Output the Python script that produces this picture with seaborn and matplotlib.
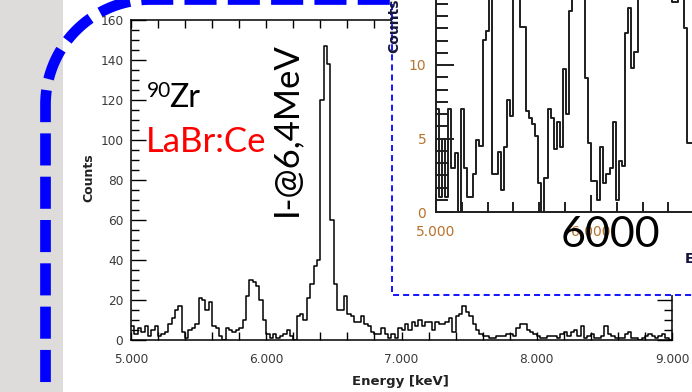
import numpy as np
import pandas as pd
import matplotlib
matplotlib.use("Agg")
import matplotlib.pyplot as plt
import seaborn as sns
from matplotlib.ticker import MultipleLocator
from matplotlib.patches import Rectangle

# ---------------- data ----------------
MAIN_E0 = 5.0
MAIN_BIN = 0.025
main_counts = [
    7, 3, 6, 4, 7, 2, 5, 7, 2, 3,
    4, 8, 11, 15, 17, 4, 1, 5, 6, 8,
    21, 20, 15, 19, 7, 6, 2, 0, 6, 5,
    4, 5, 6, 10, 22, 30, 29, 27, 20, 10,
    3, 1, 3, 1, 2, 3, 5, 2, 0, 12,
    13, 10, 21, 28, 37, 40, 120, 147, 138, 60,
    28, 15, 15, 22, 13, 12, 9, 9, 12, 8,
    7, 4, 3, 3, 6, 3, 1, 3, 1, 6,
    5, 8, 5, 9, 7, 10, 7, 9, 9, 5,
    9, 8, 8, 9, 11, 4, 12, 13, 17, 14,
    12, 8, 5, 3, 2, 2, 1, 1, 2, 2,
    2, 3, 3, 2, 6, 8, 8, 5, 4, 3,
    2, 1, 1, 2, 2, 2, 1, 3, 4, 2,
    4, 5, 2, 7, 1, 2, 3, 1, 1, 2,
    7, 3, 2, 1, 1, 1, 3, 4, 1, 1,
    0, 1, 2, 3, 2, 1, 2, 3, 1, 0,
]
main_xticks = [5, 6, 7, 8, 9]
main_xticklabels = ["5.000", "6.000", "7.000", "8.000", "9.000"]
main_yticks = [0, 20, 40, 60, 80, 100, 120, 140, 160]

INSET_E0 = 5.0
INSET_BIN = 0.02
inset_counts = [
    7, 1, 5, 1, 7, 3, 4, 0, 7, 3,
    1, 1, 2.6, 4.9, 4.5, 11.7, 12.3, 25, 2.6, 2.6,
    4.1, 1.5, 4.4, 7.6, 6.5, 25, 25, 12.6, 12.6, 6.9,
    6.4, 6.0, 5.2, 2.0, 0.0, 2.3, 7.0, 6.4, 4.3, 6.1,
    4.4, 9.7, 6.7, 13.7, 25, 25, 25, 25, 9.1, 4.7,
    2.1, 2.1, 0.8, 4.4, 2.0, 2.6, 3.0, 6.1, 0.8, 3.5,
    3.1, 12.2, 13.9, 9.8, 10.9, 25, 25, 25, 25, 25,
    25, 25, 25, 25, 25, 25, 14.3, 14.3, 25, 25,
    12.5, 4.7, 4.7,
]
inset_xticks = [5, 6]
inset_xticklabels = ["5.000", "6.000"]
inset_yticks = [0, 5, 10]

# ---------------- style ----------------
sns.set_style("ticks")
plt.rcParams["font.family"] = ["DejaVu Sans"]

W, H = 692, 392
fig = plt.figure(figsize=(W / 100, H / 100), dpi=100)
fig.patch.set_facecolor("white")


def px_rect(x0, y0, x1, y1):
    return [x0 / W, 1 - y1 / H, (x1 - x0) / W, (y1 - y0) / H]


# background layer (grey strip + rounded dashed blue frame)
bg = fig.add_axes([0, 0, 1, 1], zorder=0)
bg.set_xlim(0, W)
bg.set_ylim(H, 0)
bg.axis("off")
bg.add_patch(Rectangle((0, 0), 63, H, facecolor="#dedcda", edgecolor="none"))
R = 105.0
cx, cy = 45.5 + R, -0.5 + R
t = np.linspace(1.5 * np.pi, np.pi, 60)
px = np.concatenate([[698.0], cx + R * np.cos(t), [45.5]])
py = np.concatenate([[-0.5], cy + R * np.sin(t), [420.0]])
bg.plot(px, py, color="#0000ff", lw=7.7, ls=(0, (3.0, 1.05)),
        dash_capstyle="butt", solid_capstyle="butt")

# ---------------- main spectrum ----------------
main_df = pd.DataFrame({
    "energy": MAIN_E0 + MAIN_BIN * (np.arange(len(main_counts)) + 0.5),
    "counts": main_counts,
})
ax = fig.add_axes(px_rect(131, 20, 672, 340), zorder=1)
sns.histplot(data=main_df, x="energy", weights="counts", binwidth=MAIN_BIN,
             binrange=(MAIN_E0, MAIN_E0 + MAIN_BIN * len(main_counts)),
             element="step", fill=False, color="black", linewidth=1.1, ax=ax)
ax.set_xlim(5.0, 9.0)
ax.set_ylim(0, 160)
ax.set_xticks(main_xticks)
ax.set_xticklabels(main_xticklabels)
ax.set_yticks(main_yticks)
ax.xaxis.set_minor_locator(MultipleLocator(0.2))
ax.yaxis.set_minor_locator(MultipleLocator(5))
ax.tick_params(which="both", direction="in", top=True, right=True,
               colors="black", labelcolor="#3a3a3a", labelsize=8.7, width=1.0)
ax.tick_params(axis="x", which="major", length=6, pad=9.5)
ax.tick_params(axis="x", which="minor", length=6)
ax.tick_params(axis="y", which="major", length=11, pad=5.5)
ax.tick_params(axis="y", which="minor", length=5.8)
for s in ax.spines.values():
    s.set_visible(True)
    s.set_color("black")
    s.set_linewidth(1.1)
ax.set_xlabel("Energy [keV]", fontsize=9.5, fontweight="bold", color="#222222")
ax.xaxis.set_label_coords((400 - 131) / 541, (340 - 375) / 320)
ax.set_ylabel("Counts", fontsize=9, fontweight="bold", color="#222222")
ax.yaxis.set_label_coords((95 - 131) / 541, (340 - 178) / 320)

# ---------------- inset box ----------------
ov = fig.add_axes([0, 0, 1, 1], zorder=2)
ov.set_xlim(0, W)
ov.set_ylim(H, 0)
ov.axis("off")
ov.add_patch(Rectangle((392, -20), 420, 315, facecolor="white",
                       edgecolor="#1a1aff", lw=1.45, ls=(0, (3, 2))))

inset_df = pd.DataFrame({
    "energy": INSET_E0 + INSET_BIN * (np.arange(len(inset_counts)) + 0.5),
    "counts": inset_counts,
})
ins = fig.add_axes(px_rect(436, -48, 836, 212), zorder=3)
sns.histplot(data=inset_df, x="energy", weights="counts", binwidth=INSET_BIN,
             binrange=(INSET_E0, INSET_E0 + INSET_BIN * len(inset_counts)),
             element="step", fill=False, color="#1e1e1e", linewidth=1.4, ax=ins)
ins.set_xlim(5.0, 5.0 + 400 / 155)
ins.set_ylim(0, 260 / 14.7)
ins.set_xticks(inset_xticks)
ins.set_xticklabels(inset_xticklabels)
ins.set_yticks(inset_yticks)
ins.xaxis.set_minor_locator(MultipleLocator(1 / 6))
ins.yaxis.set_minor_locator(MultipleLocator(5 / 6))
ins.tick_params(which="both", direction="in", colors="#1e1e1e",
                labelcolor="#b8732d", labelsize=10, width=1.4)
ins.tick_params(axis="x", which="major", length=12, pad=9.5)
ins.tick_params(axis="x", which="minor", length=7.2)
ins.tick_params(axis="y", which="major", length=13, pad=7)
ins.tick_params(axis="y", which="minor", length=8.6)
for s in ins.spines.values():
    s.set_visible(True)
    s.set_color("#1e1e1e")
    s.set_linewidth(1.4)
ins.set_xlabel("Energy [keV]", fontsize=10, fontweight="bold", color="#14143c")
ins.xaxis.label.set_ha("left")
ins.xaxis.set_label_coords((685 - 436) / 400, (212 - 252) / 260)
ins.set_ylabel("Counts", fontsize=10, fontweight="bold", color="#14143c")
ins.yaxis.set_label_coords((401 - 436) / 400, (212 - 26) / 260)

# ---------------- slide annotations ----------------
tx = fig.add_axes([0, 0, 1, 1], zorder=4)
tx.set_xlim(0, W)
tx.set_ylim(H, 0)
tx.axis("off")
slide_font = ["Lato", "DejaVu Sans"]
tx.text(147, 97, "90", fontsize=15, family=slide_font, color="black",
        ha="left", va="baseline")
tx.text(169, 107, "Zr", fontsize=23, family=slide_font, color="black",
        ha="left", va="baseline")
tx.text(146, 152, "LaBr:Ce", fontsize=25, family=slide_font, color="#ff0000",
        ha="left", va="baseline")
tx.text(286, 216, "I-@6,4MeV", fontsize=25, family=slide_font, color="black",
        rotation=90, ha="center", va="bottom")
tx.text(610, 247, "6000", fontsize=31, family=slide_font, color="black",
        ha="center", va="baseline")

fig.savefig("out.png", dpi=100)
